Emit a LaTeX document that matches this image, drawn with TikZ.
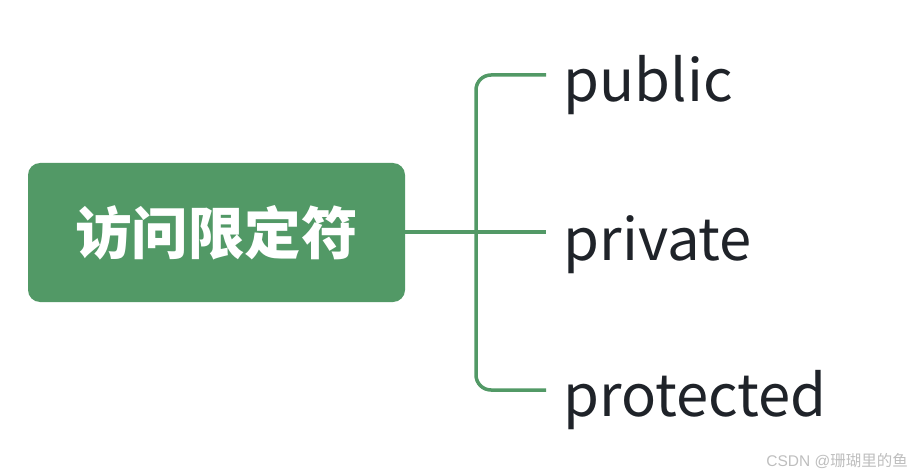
\documentclass[tikz,border=0pt]{standalone}
\usepackage{fontspec}
\setmainfont{Noto Sans CJK SC}
\newfontfamily\wmlatin{Liberation Sans}
\definecolor{mmgreen}{RGB}{82,153,102}
\definecolor{leaftext}{RGB}{31,35,41}
\definecolor{wmgray}{RGB}{190,190,190}
\tikzset{
  rootbox/.style={fill=mmgreen, draw=none, rounded corners=12pt, minimum width=377pt, minimum height=139pt, inner sep=0pt,
    text=white, font=\fontsize{56.5}{60}\selectfont\bfseries},
  leaf/.style={anchor=base west, inner sep=0pt, text=leaftext, font=\fontsize{58}{66}\selectfont},
  branch/.style={draw=mmgreen, line width=3.5pt, rounded corners=15pt},
}
\begin{document}
\begin{tikzpicture}[x=1pt,y=-1pt]
\useasboundingbox (0,0) rectangle (913,476);
\node[rootbox] (root) at (216.5,232.5) {访问限定符};
\node[leaf] (pub) at (563.5,102) {public};
\node[leaf] (pri) at (563.5,260) {private};
\node[leaf] (pro) at (563.5,416) {protected};
\coordinate (j) at (476,232);
\coordinate (e1) at (546,75);
\coordinate (e2) at (546,232);
\coordinate (e3) at (546,390);
\draw[branch] (root.east |- j) -- (e2);
\draw[branch] (j) |- (e1);
\draw[branch] (j) |- (e3);
\node[anchor=east, inner sep=0pt, text=wmgray, font=\fontsize{15.5}{18}\selectfont] (wm) at (908,461) {{\wmlatin CSDN @}珊瑚里的鱼};
\end{tikzpicture}
\end{document}
